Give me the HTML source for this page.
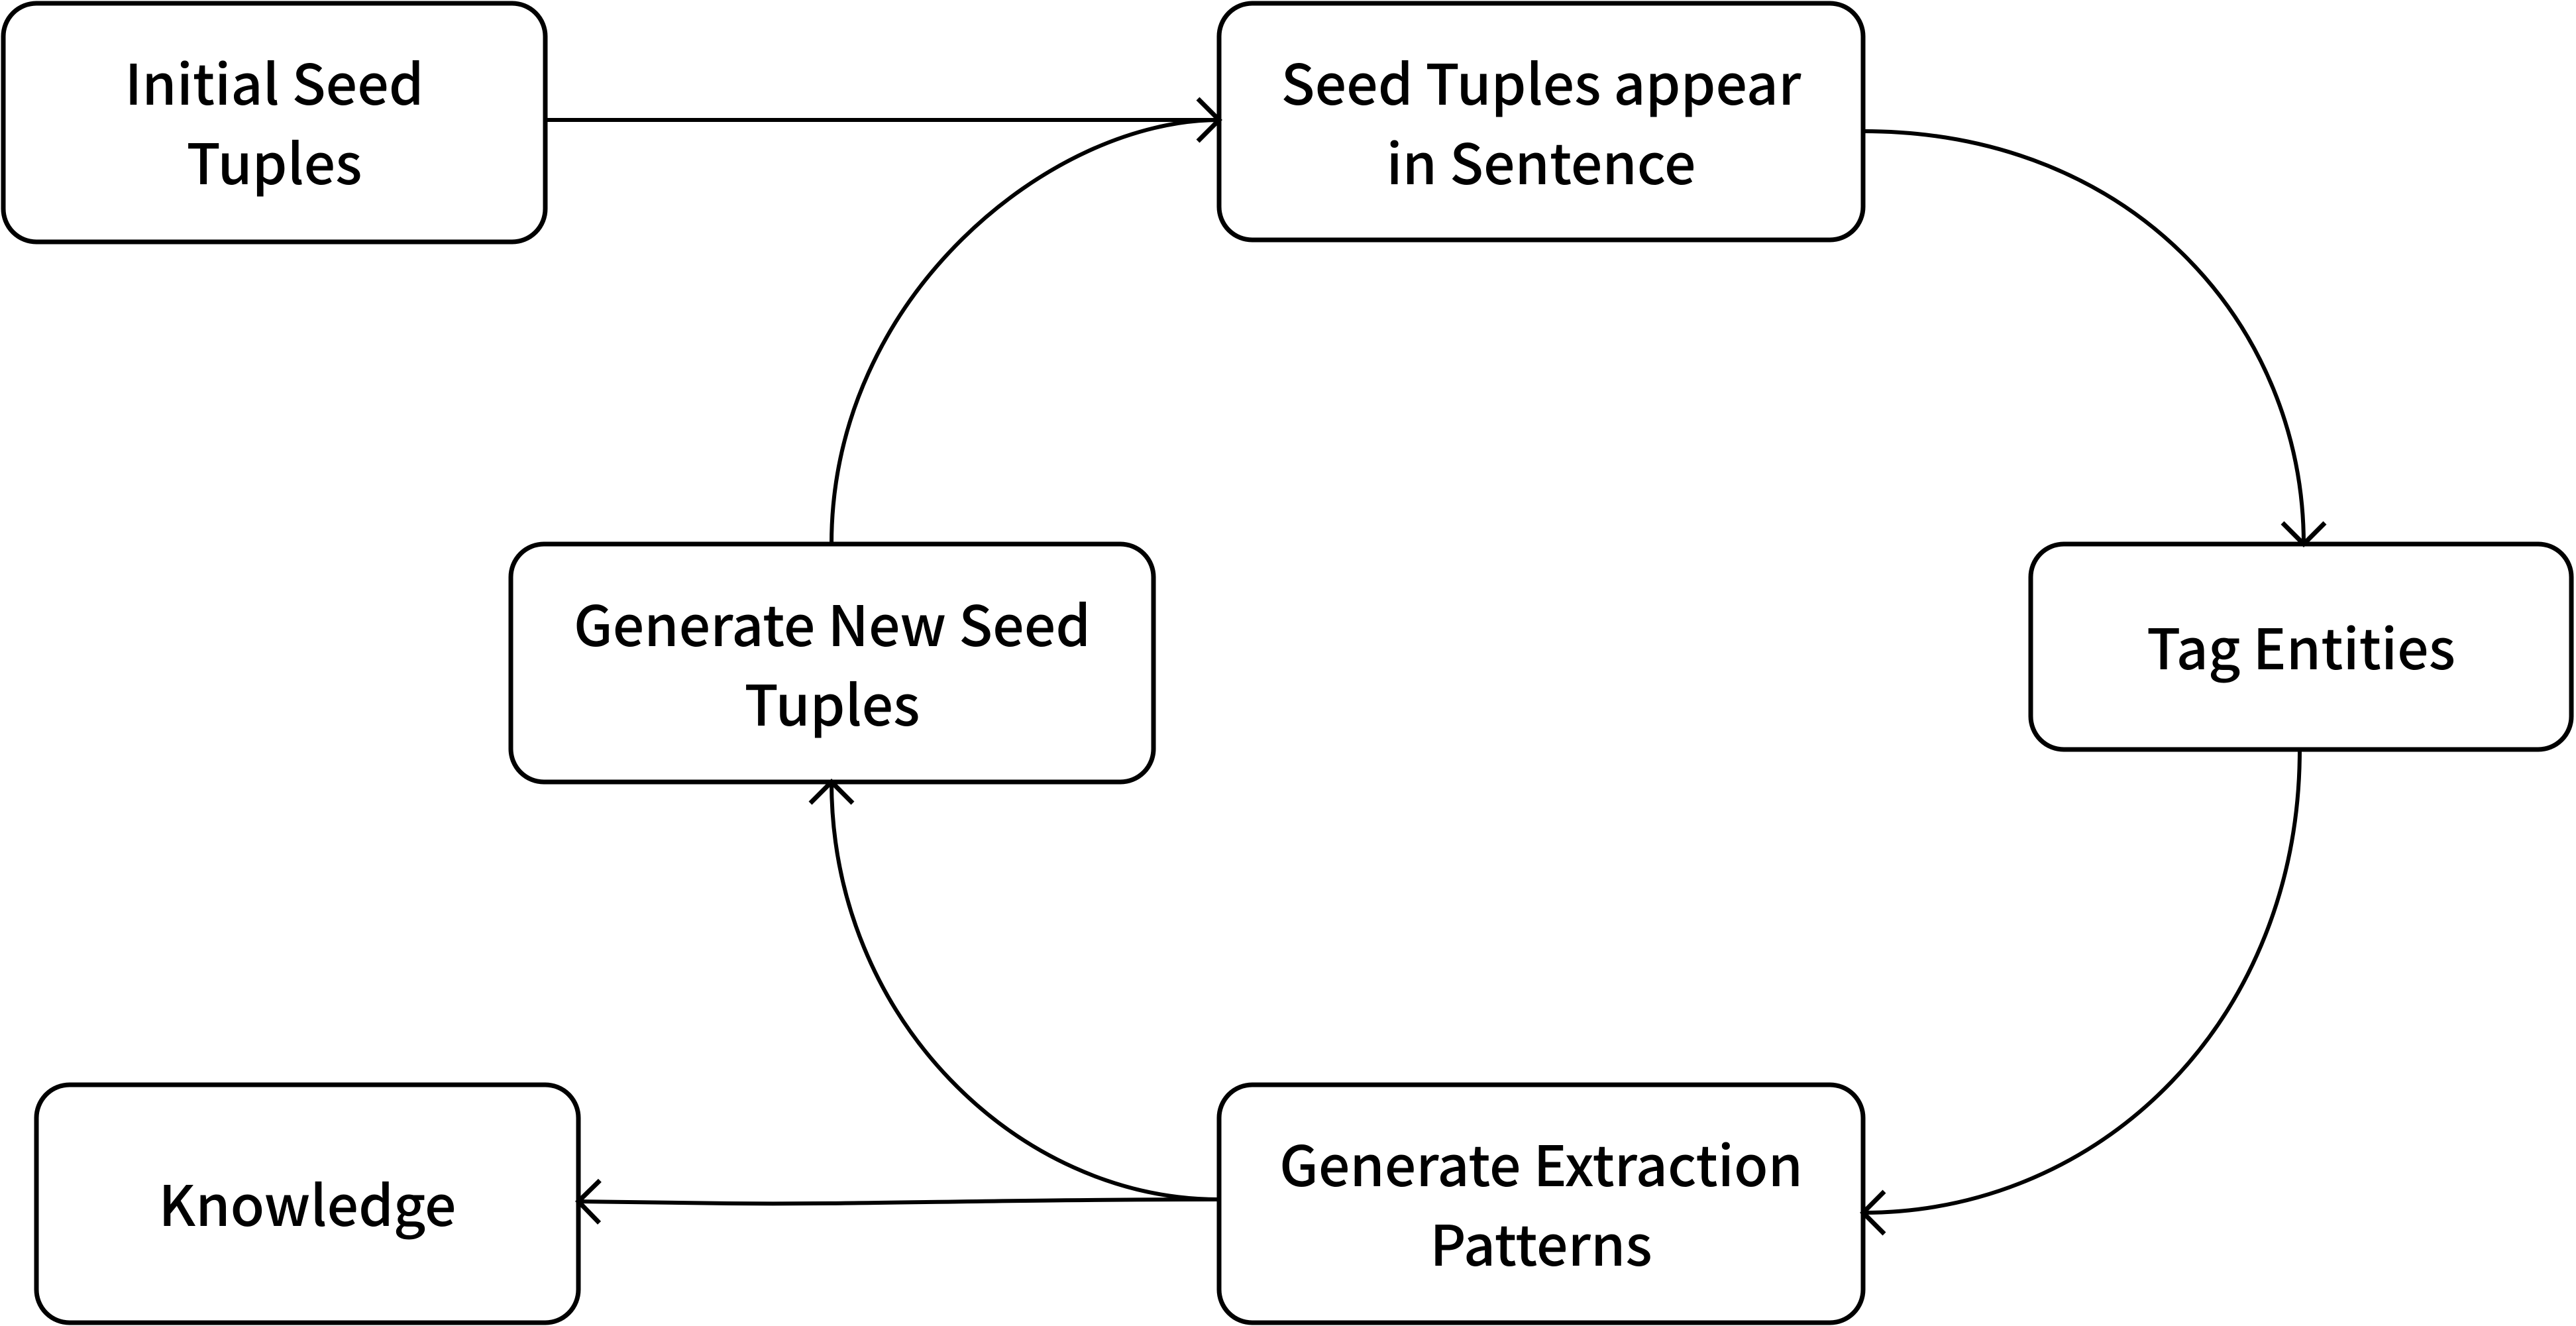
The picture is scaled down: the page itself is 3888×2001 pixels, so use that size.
<!DOCTYPE html>
<html><head><meta charset="utf-8"><style>
html,body{margin:0;padding:0;background:#fff;}
svg{display:block;}
text{font-family:"Noto Sans CJK JP","DejaVu Sans",sans-serif;font-size:84px;font-weight:500;fill:#000;text-anchor:middle;}
</style></head><body>
<svg width="3888" height="2001" viewBox="0 0 3888 2001" xmlns="http://www.w3.org/2000/svg">
<defs>
<marker id="a" markerUnits="userSpaceOnUse" markerWidth="60" markerHeight="80" refX="40" refY="40" orient="auto">
<path d="M8,8 L40,40 L8,72" fill="none" stroke="#000" stroke-width="7"/>
</marker>
</defs>
<g fill="#fff" stroke="#000" stroke-width="7">
<rect x="5" y="5" width="818" height="360" rx="50"/>
<rect x="1840" y="5" width="972" height="357" rx="50"/>
<rect x="3065" y="821" width="816" height="310" rx="50"/>
<rect x="771" y="821" width="970" height="359" rx="50"/>
<rect x="55" y="1637" width="818" height="359" rx="50"/>
<rect x="1840" y="1637" width="972" height="359" rx="50"/>
</g>
<g fill="none" stroke="#000" stroke-width="6">
<path d="M823,181 L1840,181" marker-end="url(#a)"/>
<path d="M2812,198 C3224,198 3477,496 3477,821" marker-end="url(#a)"/>
<path d="M3471,1131 C3471,1537 3174,1830 2812,1830" marker-end="url(#a)"/>
<path d="M1840,1810 C1537,1810 1255,1537 1255,1180" marker-end="url(#a)"/>
<path d="M1840,1810 C1500,1810 1300,1818 1100,1816 L873,1813" marker-end="url(#a)"/>
<path d="M1255,821 C1255,446 1587,181 1840,181"/>
</g>
<text x="414" y="158">Initial Seed</text>
<text x="414" y="278">Tuples</text>
<text x="2326" y="158">Seed Tuples appear</text>
<text x="2326" y="278">in Sentence</text>
<text x="3473" y="1010">Tag Entities</text>
<text x="1256" y="975">Generate New Seed</text>
<text x="1256" y="1095">Tuples</text>
<text x="464" y="1850">Knowledge</text>
<text x="2326" y="1790">Generate Extraction</text>
<text x="2326" y="1910">Patterns</text>
</svg>
</body></html>
